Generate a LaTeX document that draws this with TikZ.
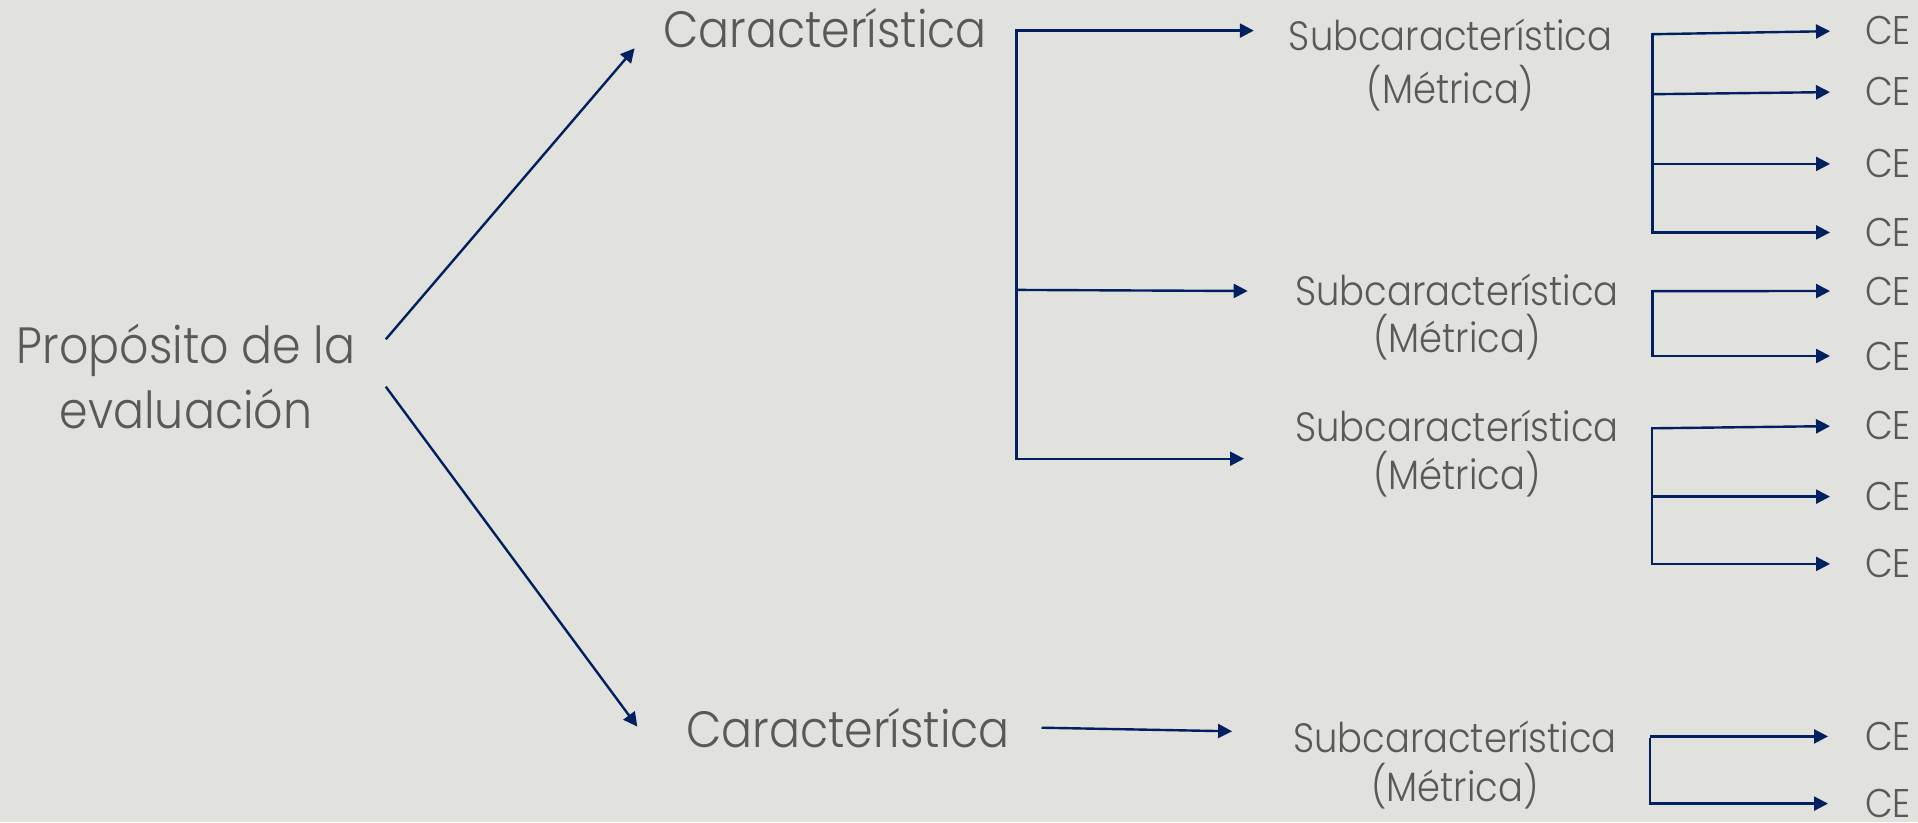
\documentclass[tikz,border=0pt]{standalone}
\usepackage{fontspec}
\setmainfont{Poppins}[UprightFont={* Light}, FakeStretch=0.9]
\usetikzlibrary{arrows.meta}
\definecolor{bgc}{RGB}{225,226,221}
\definecolor{txt}{RGB}{89,89,89}
\definecolor{navy}{RGB}{0,32,96}
\tikzset{
  conn/.style={draw=navy, line width=2.4pt},
  vconn/.style={conn, line cap=rect},
  arr/.style={conn, -{Triangle[length=14pt,width=14pt]}},
  big/.style={text=txt, inner sep=0pt, font=\fontsize{51}{65}\selectfont, align=center},
  sub/.style={text=txt, inner sep=0pt, font=\fontsize{41}{47.7}\selectfont, align=center},
  ce/.style={text=txt, inner sep=0pt, font=\fontsize{40}{42}\selectfont, anchor=west},
}
\begin{document}
\begin{tikzpicture}[x=1pt,y=-1pt]
\fill[bgc] (0,0) rectangle (1918,822);
\useasboundingbox (0,0) rectangle (1918,822);

% texts (anchor=base is the baseline of the last line)
\node[big, anchor=base] (p) at (186,428) {Propósito de la\\evaluación};
\node[big, anchor=base] (c1) at (825,47.7) {Característica};
\node[big, anchor=base] (c2) at (848,747.3) {Característica};

\node[sub, anchor=base] (s1) at (1450.7,103) {Subcaracterística\\[5.3pt](Métrica)};
\node[sub, anchor=base] (s2) at (1457,352.7) {Subcaracterística\\(Métrica)};
\node[sub, anchor=base] (s3) at (1457,489.3) {Subcaracterística\\(Métrica)};
\node[sub, anchor=base] (s4) at (1455,801.7) {Subcaracterística\\[1.3pt](Métrica)};

\node[ce] (e1) at (1864.8,30.6) {CE};
\node[ce] (e2) at (1864.8,91.7) {CE};
\node[ce] (e3) at (1864.8,163.9) {CE};
\node[ce] (e4) at (1864.8,232.4) {CE};
\node[ce] (e5) at (1864.8,291) {CE};
\node[ce] (e6) at (1864.8,356) {CE};
\node[ce] (e7) at (1864.8,425.7) {CE};
\node[ce] (e8) at (1864.8,496.6) {CE};
\node[ce] (e9) at (1864.8,563.9) {CE};
\node[ce] (e10) at (1864.8,736.4) {CE};
\node[ce] (e11) at (1864.8,803.6) {CE};

% level 1
\coordinate (pa) at (385.8,339.3);
\coordinate (pb) at (385.8,386.7);
\coordinate (c1in) at (634.6,48.3);
\coordinate (c2in) at (637.3,726.6);
\draw[arr] (pa) -- (c1in);
\draw[arr] (pb) -- (c2in);

% top bracket
\coordinate (t1) at (1016.5,30.6);
\coordinate (t2) at (1016.5,289.9);
\coordinate (t3) at (1016.5,458.7);
\coordinate (s1in) at (1253.8,30.6);
\coordinate (s2in) at (1247.7,291);
\coordinate (s3in) at (1244,458.7);
\draw[vconn] (t1) -- (t3);
\draw[arr] (t1) -- (s1in);
\draw[arr] (t2) -- (s2in);
\draw[arr] (t3) -- (s3in);

% bottom
\coordinate (c2out) at (1041.5,727.7);
\coordinate (s4in) at (1232.1,731.3);
\draw[arr] (c2out) -- (s4in);

% right bracket 1
\coordinate (a1) at (1652.6,34.2);
\coordinate (a2) at (1652.6,94.2);
\coordinate (a3) at (1652.6,163.9);
\coordinate (a4) at (1652.6,232.4);
\draw[vconn] (a1) -- (a4);
\draw[arr, shorten >=34.8pt] (a1) -- (e1.west);
\draw[arr, shorten >=34.8pt] (a2) -- (e2.west);
\draw[arr, shorten >=34.8pt] (a3) -- (e3.west);
\draw[arr, shorten >=34.8pt] (a4) -- (e4.west);

% right bracket 2
\coordinate (b1) at (1652.6,291.1);
\coordinate (b2) at (1652.6,356);
\draw[vconn] (b1) -- (b2);
\draw[arr, shorten >=34.8pt] (b1) -- (e5.west);
\draw[arr, shorten >=34.8pt] (b2) -- (e6.west);

% right bracket 3
\coordinate (d1) at (1651.8,428.3);
\coordinate (d2) at (1651.8,496.6);
\coordinate (d3) at (1651.8,563.9);
\draw[vconn] (d1) -- (d3);
\draw[arr, shorten >=34.8pt] (d1) -- (e7.west);
\draw[arr, shorten >=34.8pt] (d2) -- (e8.west);
\draw[arr, shorten >=34.8pt] (d3) -- (e9.west);

% right bracket 4
\coordinate (f1) at (1649.7,739.3);
\coordinate (f0) at (1649.7,736.4);
\coordinate (f2) at (1649.7,803.6);
\draw[vconn] (f1) -- (f2);
\draw[arr, shorten >=36.8pt] (f0) -- (e10.west);
\draw[arr, shorten >=36.8pt] (f2) -- (e11.west);
\end{tikzpicture}
\end{document}
